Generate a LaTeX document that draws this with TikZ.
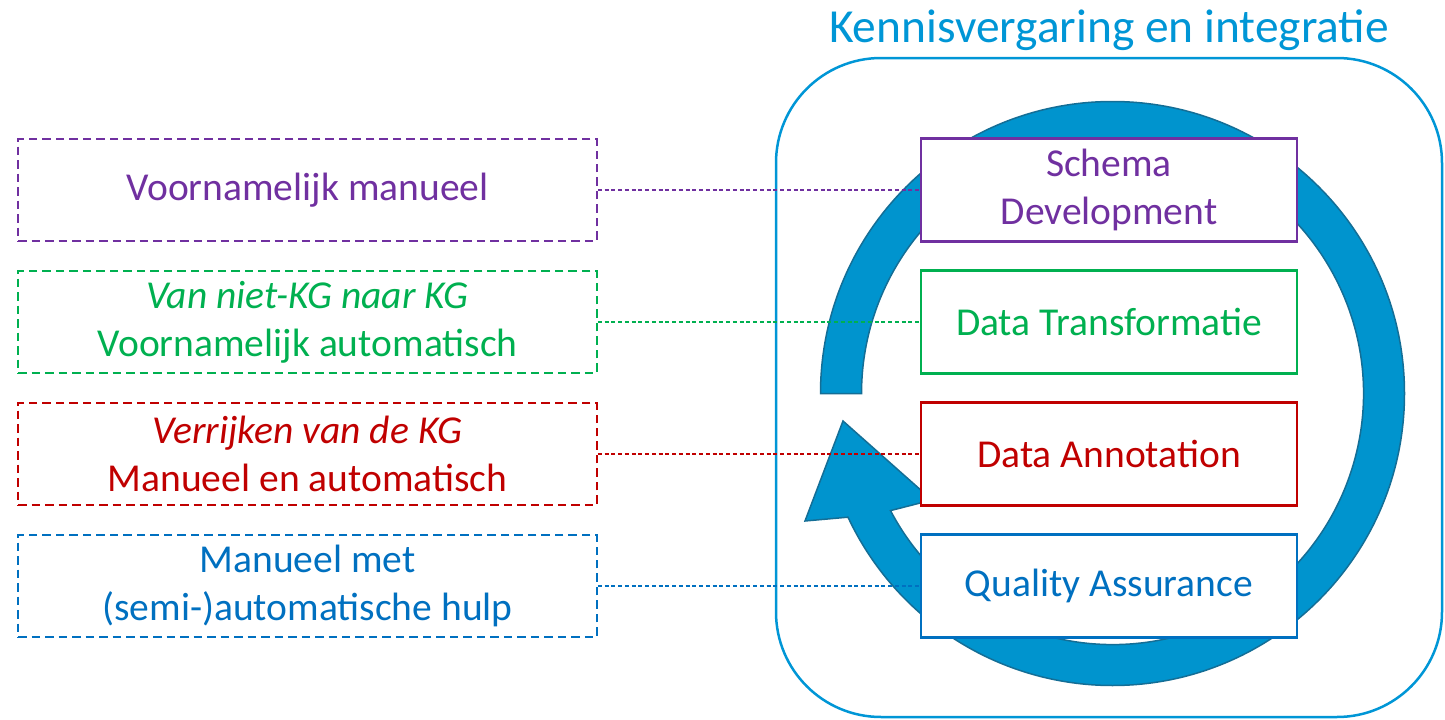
\documentclass[tikz,border=0pt]{standalone}
\usepackage{fontspec}
\setmainfont{Carlito}
\definecolor{kgpurple}{RGB}{112,48,160}
\definecolor{kggreen}{RGB}{0,176,80}
\definecolor{kgred}{RGB}{192,0,0}
\definecolor{kgblue}{RGB}{0,112,192}
\definecolor{kgcyan}{RGB}{0,150,214}
\definecolor{ringfill}{RGB}{0,148,206}
\definecolor{ringedge}{RGB}{20,110,150}
\begin{document}
\begin{tikzpicture}[x=0.02cm,y=-0.02cm,
	stage/.style={draw=#1,text=#1,fill=white,line width=0.045cm,minimum width=7.52cm,minimum height=2.06cm,inner sep=0pt,align=center,font=\fontsize{22.5}{27.5}\selectfont},
	note/.style={draw=#1,text=#1,line width=0.04cm,dash pattern=on 0.17cm off 0.1cm,minimum width=11.58cm,minimum height=2.06cm,inner sep=0pt,align=center,font=\fontsize{22.5}{27.5}\selectfont},
	link/.style={draw=#1,line width=0.028cm,dash pattern=on 0.08cm off 0.055cm}]
	\useasboundingbox (0,0) rectangle (1445,720);
	% frame and title
	\draw[kgcyan,line width=0.05cm,rounded corners=2.1cm] (776,58) rectangle (1442,717);
	\node[text=kgcyan,anchor=base,font=\fontsize{27}{32}\selectfont] (title) at (1109,42) {Kennisvergaring en integratie};
	% circular arrow
	\draw[fill=ringfill,draw=ringedge,line width=0.03cm] (820.5,393.5) arc[start angle=180,end angle=514.94,radius=292]
		-- (805,521) -- (843,421) -- (932,500) -- (890.5,510.6)
		arc[start angle=512.2,end angle=180,radius=251] -- cycle;
	% stages
	\node[stage=kgpurple] (schema) at (1109,190) {Schema\\Development};
	\node[stage=kggreen] (transform) at (1109,322) {Data Transformatie};
	\node[stage=kgred] (annotate) at (1109,454) {Data Annotation};
	\node[stage=kgblue] (quality) at (1109,586) {Quality Assurance};
	% notes
	\node[note=kgpurple] (manual) at (307.5,190) {Voornamelijk manueel};
	\node[note=kggreen] (auto) at (307.5,322) {\textit{Van niet-KG naar KG}\\Voornamelijk automatisch};
	\node[note=kgred] (enrich) at (307.5,454) {\textit{Verrijken van de KG}\\Manueel en automatisch};
	\node[note=kgblue] (assist) at (307.5,586) {Manueel met\\(semi-)automatische hulp};
	\foreach \from/\to/\col in {manual/schema/kgpurple,auto/transform/kggreen,enrich/annotate/kgred,assist/quality/kgblue}
	\draw[link=\col] (\from) -- (\to);
\end{tikzpicture}
\end{document}
